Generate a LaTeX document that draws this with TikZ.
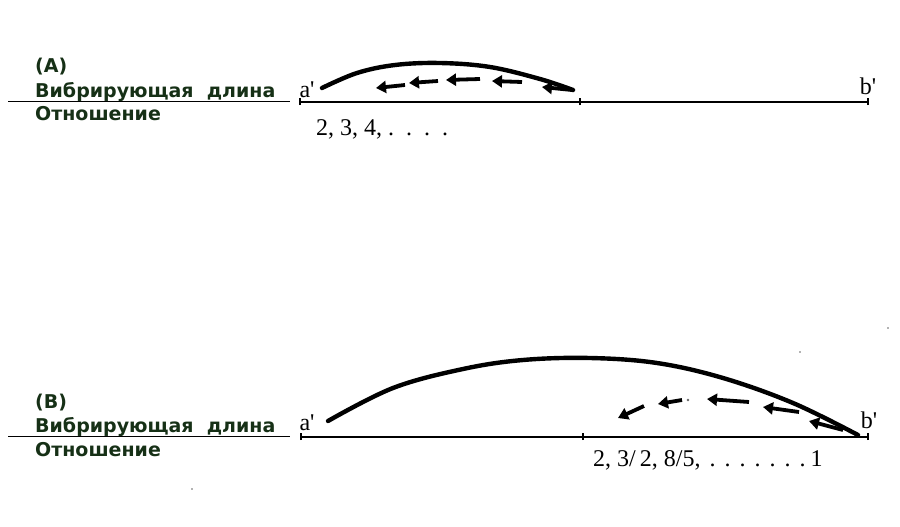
\documentclass[tikz,border=0pt]{standalone}
\usepackage{fontspec}
\setmainfont{Liberation Serif}
\newfontfamily\lblfont{DejaVu Sans}[BoldFont={DejaVu Sans Bold}]
\usetikzlibrary{arrows.meta}
\definecolor{lblgreen}{RGB}{22,48,22}
\tikzset{
  lbl/.style={font=\lblfont\bfseries\fontsize{19}{20}\selectfont, text=lblgreen, anchor=base west, inner sep=0pt},
  ptlbl/.style={font=\fontsize{24}{25}\selectfont, anchor=base, inner sep=0pt},
  ratio/.style={font=\fontsize{24}{25}\selectfont, anchor=base west, inner sep=0pt},
  axis/.style={line width=1.4pt},
  thin/.style={line width=1pt},
  arc/.style={line width=4.4pt, line cap=round},
  flow/.style={line width=3.8pt, -{Triangle[length=10pt,width=12pt]}},
  speck/.style={fill=black!60}
}
\newcommand{\pr}{\textquotesingle}
\newcommand{\dg}{\hspace{9pt}}
\begin{document}
\begin{tikzpicture}[x=1pt,y=-1pt]
\useasboundingbox (0,0) rectangle (900,527);
% ---------- (A) ----------
\node[lbl] (Ahead) at (35,73) {(A)};
\node[lbl] (Avib) at (35,97) {Вибрирующая\ \ длина};
\node[lbl] (Arat) at (35,120) {Отношение};
\coordinate (AL0) at (8,101);
\coordinate (AL1) at (290,101);
\draw[thin] (AL0) -- (AL1);
\node[ptlbl] (Aa) at (307,97) {a\pr};
\node[ptlbl] (Ab) at (868,95) {b\pr};
\coordinate (Aleft) at (300,102);
\coordinate (Amid) at (580,102);
\coordinate (Aright) at (868,102);
\draw[axis] (Aleft) -- (Aright);
\foreach \p in {Aleft,Amid,Aright} \draw[axis] ([yshift=-3pt]\p) -- ([yshift=4pt]\p);
\draw[arc] plot[smooth, tension=0.6] coordinates {(322,88) (357,73) (395,65) (440,63) (490,67) (540,79) (573,90)};
\coordinate (At1) at (405,85); \coordinate (Ah1) at (376,88);
\coordinate (At2) at (438,81); \coordinate (Ah2) at (409,83);
\coordinate (At3) at (480,79); \coordinate (Ah3) at (446,80);
\coordinate (At4) at (522,82); \coordinate (Ah4) at (492,81);
\coordinate (At5) at (572,90); \coordinate (Ah5) at (542,87);
\foreach \i in {1,...,5} \draw[flow] (At\i) -- (Ah\i);
\node[ratio] (Arel) at (316,135) {2, 3, 4,\ .\ \ .\ \ .\ \ .};
% ---------- (B) ----------
\node[lbl] (Bhead) at (35,408) {(B)};
\node[lbl] (Bvib) at (35,432) {Вибрирующая\ \ длина};
\node[lbl] (Brat) at (35,456) {Отношение};
\coordinate (BL0) at (8,436);
\coordinate (BL1) at (290,436);
\draw[thin] (BL0) -- (BL1);
\node[ptlbl] (Ba) at (307,430) {a\pr};
\node[ptlbl] (Bb) at (869,428) {b\pr};
\coordinate (Bleft) at (301,437);
\coordinate (Bmid) at (583,437);
\coordinate (Bright) at (868,437);
\draw[axis] (Bleft) -- (Bright);
\foreach \p in {Bleft,Bmid,Bright} \draw[axis] ([yshift=-3pt]\p) -- ([yshift=4pt]\p);
\draw[arc] plot[smooth, tension=0.6] coordinates {(328,421) (393,388) (463,369) (523,360) (590,358) (657,363) (723,378) (793,403) (858,435)};
\coordinate (Bt1) at (644,406); \coordinate (Bh1) at (618,418);
\coordinate (Bt2) at (682,400); \coordinate (Bh2) at (658,404);
\coordinate (Bt3) at (749,402); \coordinate (Bh3) at (707,399);
\coordinate (Bt4) at (799,412); \coordinate (Bh4) at (763,407);
\coordinate (Bt5) at (843,430); \coordinate (Bh5) at (809,421);
\foreach \i in {1,...,5} \draw[flow] (Bt\i) -- (Bh\i);
\fill[speck] (688,400) circle (1.3pt);
\node[ratio] (Brel) at (593,466) {2, 3/\,2, 8/5,\dg.\dg.\dg.\dg.\dg.\dg.\dg.\hspace{5pt}1};
% specks
\fill[speck] (888,328) circle (0.8pt);
\fill[speck] (800,352) circle (0.8pt);
\fill[speck] (192,489) circle (0.8pt);
\end{tikzpicture}
\end{document}
